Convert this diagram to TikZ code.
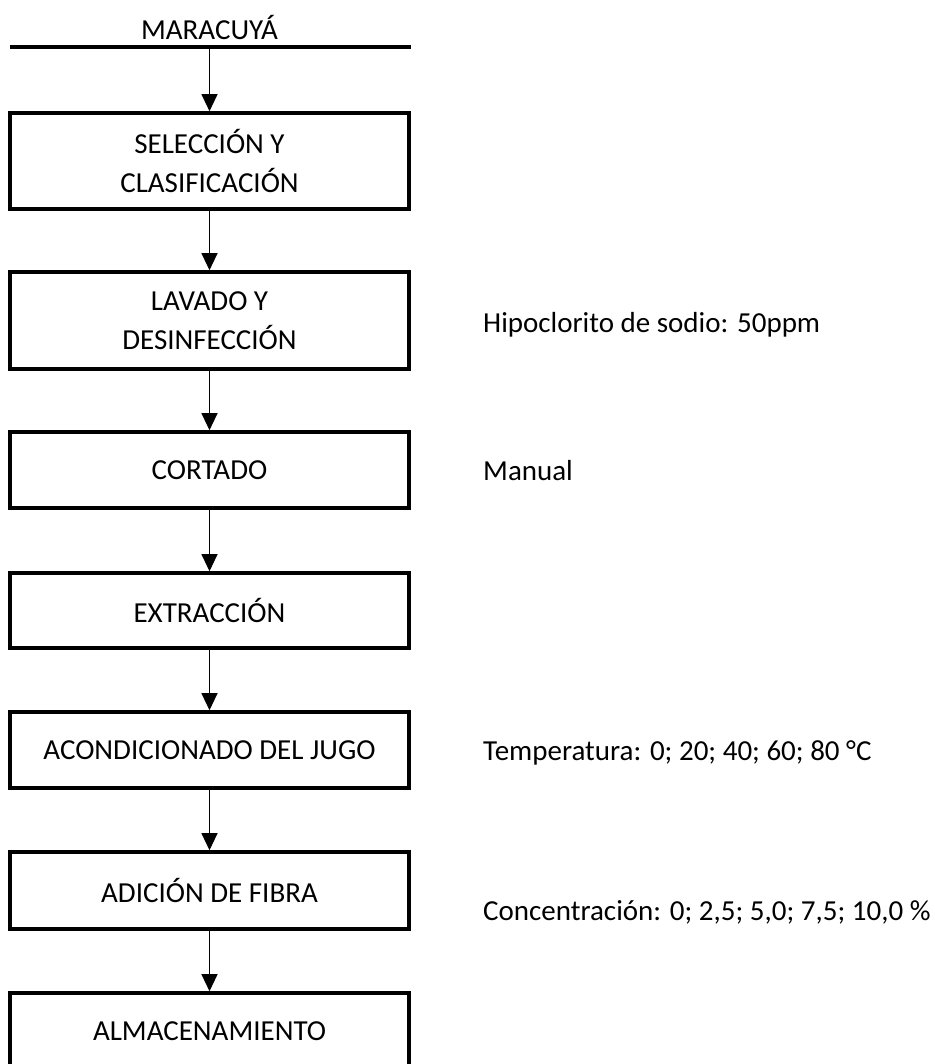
\documentclass[tikz,border=0pt]{standalone}
\usepackage{fontspec}
\setmainfont{Carlito}
\usetikzlibrary{arrows.meta}
\begin{document}
\begin{tikzpicture}[x=1pt,y=-1pt,
  font=\fontsize{29}{39}\selectfont,
  etapa/.style={draw,line width=3.6pt,minimum width=399pt,align=center,inner sep=0pt},
  flecha/.style={-{Triangle[width=16pt,length=17pt]},line width=1.1pt},
  nota/.style={anchor=west,inner sep=0pt}]
\useasboundingbox (0,0) rectangle (934,1064);
\node (maracuya) at (209.5,28) {MARACUYÁ};
\draw[line width=3.6pt] (10,47) -- (411,47);
\coordinate (entrada) at (209.5,47);
\node[etapa,minimum height=96pt] (seleccion) at (209.5,161) {SELECCIÓN Y\\CLASIFICACIÓN};
\node[etapa,minimum height=97pt] (lavado) at (209.5,320.5) {LAVADO Y\\DESINFECCIÓN};
\node[etapa,minimum height=76pt] (cortado) at (209.5,470) {CORTADO};
\node[etapa,minimum height=75pt] (extraccion) at (209.5,610.5) {EXTRACCIÓN};
\node[etapa,minimum height=76pt] (acondicionado) at (209.5,750) {ACONDICIONADO DEL JUGO};
\node[etapa,minimum height=77pt] (adicion) at (209.5,890.5) {ADICIÓN DE FIBRA};
\node[etapa,minimum height=76pt] (almacenamiento) at (209.5,1031) {ALMACENAMIENTO};
\draw[flecha] (entrada) -- (seleccion);
\draw[flecha] (seleccion) -- (lavado);
\draw[flecha] (lavado) -- (cortado);
\draw[flecha] (cortado) -- (extraccion);
\draw[flecha] (extraccion) -- (acondicionado);
\draw[flecha] (acondicionado) -- (adicion);
\draw[flecha] (adicion) -- (almacenamiento);
\node[nota] (hipoclorito) at (483,325) {Hipoclorito de sodio: 50ppm};
\node[nota] (manual) at (483,471) {Manual};
\node[nota] (temperatura) at (483,753) {Temperatura: 0; 20; 40; 60; 80 °C};
\node[nota] (concentracion) at (483,912) {Concentración: 0; 2,5; 5,0; 7,5; 10,0 \%};
\end{tikzpicture}
\end{document}
